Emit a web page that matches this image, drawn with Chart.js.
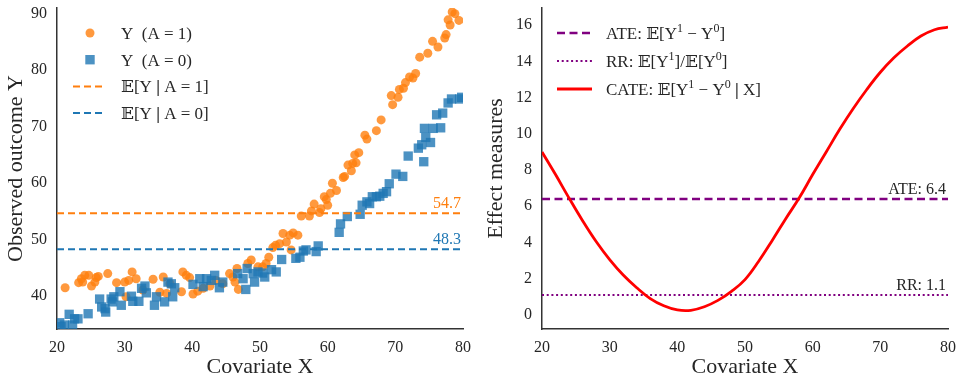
<!DOCTYPE html>
<html>
<head>
<meta charset="utf-8">
<script src="https://cdn.jsdelivr.net/npm/chart.js@4.4.1/dist/chart.umd.min.js"></script>
<style>
  html, body { margin: 0; padding: 0; background: #fff; }
  #wrap { position: relative; width: 958px; height: 378px; }
  #outcomechart { position: absolute; left: 0; top: 0; }
  #effectchart { position: absolute; left: 480px; top: 0; }
</style>
</head>
<body>
<div id="wrap">
  <canvas id="outcomechart" width="480" height="378"></canvas>
  <canvas id="effectchart" width="478" height="378"></canvas>
</div>
<script>
const outcomeChart = document.getElementById("outcomechart");
const effectChart = document.getElementById("effectchart");

// covariate / outcome for treated units (A = 1)
const xTreated = [21.2, 23.2, 23.6, 23.8, 24.1, 24.7, 25.1, 25.6, 25.8, 26.1, 27.5, 28.8, 30.0, 30.2, 30.6, 31.1, 31.7,
    32.7, 34.2, 35.2, 35.7, 36.2, 36.7, 38.4, 38.6, 39.1, 39.6, 40.1, 40.8, 41.6, 42.6, 43.5, 44.5, 45.5, 46.0, 46.3,
    46.6, 46.8, 48.2, 48.7, 49.7, 50.4, 50.9, 51.3, 51.9, 52.3, 52.9, 53.4, 53.9, 54.4, 54.6, 54.9, 55.6, 56.1, 57.3,
    57.6, 58.0, 58.8, 59.0, 59.5, 59.8, 60.0, 60.4, 60.7, 61.3, 62.3, 62.5, 63.0, 63.5, 63.7, 64.0, 64.2, 64.6, 65.5,
    65.8, 67.2, 67.9, 69.4, 69.6, 70.4, 70.6, 71.2, 71.5, 72.1, 72.6, 73.0, 73.6, 74.8, 75.5, 76.3, 77.3, 77.5, 77.8,
    78.1, 78.4, 78.8, 79.4];
const yTreated = [41.5, 42.4, 43.1, 42.5, 43.7, 43.7, 41.8, 42.5, 43.3, 43.5, 44.0, 42.4, 42.5, 39.9, 42.8, 44.3, 43.1,
    41.1, 43.0, 40.7, 43.4, 40.5, 42.2, 40.8, 44.3, 43.7, 43.3, 40.4, 40.9, 41.4, 41.8, 42.8, 42.2, 44.0, 43.4, 42.5,
    44.9, 41.2, 45.8, 46.4, 45.2, 45.2, 45.8, 46.9, 48.6, 49.0, 49.3, 51.1, 49.6, 50.8, 48.2, 51.2, 50.8, 54.2, 54.2,
    55.1, 56.3, 54.8, 55.5, 57.6, 57.1, 56.1, 58.2, 60.0, 58.7, 61.0, 61.2, 63.2, 62.2, 63.5, 65.0, 63.6, 65.4, 68.5,
    67.8, 69.3, 71.2, 75.5, 73.9, 75.2, 76.6, 76.8, 77.8, 78.8, 78.6, 79.4, 82.3, 83.0, 85.1, 84.1, 85.7, 86.3, 88.9,
    88.0, 90.3, 90.0, 88.8];

// covariate / outcome for control units (A = 0)
const xControl = [20.4, 20.6, 21.1, 21.8, 22.3, 22.6, 23.1, 24.6, 26.3, 26.6, 27.1, 27.2, 28.0, 28.2, 28.4, 29.3, 29.5,
    31.0, 31.2, 32.1, 32.5, 33.0, 33.2, 34.4, 34.7, 35.9, 36.4, 36.9, 37.4, 37.1, 40.1, 41.1, 41.6, 42.1, 42.8, 43.3,
    44.0, 44.5, 46.7, 47.5, 47.9, 48.1, 49.0, 49.2, 49.7, 50.4, 50.7, 51.7, 52.4, 53.2, 55.3, 55.9, 56.4, 56.8, 58.3,
    58.6, 61.7, 61.9, 62.9, 64.8, 65.1, 65.8, 66.2, 66.6, 67.2, 67.7, 68.2, 68.7, 69.1, 70.1, 71.1, 71.9, 73.4, 73.9,
    74.2, 74.5, 75.2, 74.3, 75.6, 76.1, 76.7, 77.0, 77.8, 78.3, 79.5, 79.8];
const yControl = [35.3, 34.6, 34.9, 36.8, 34.9, 36.0, 36.0, 36.9, 39.5, 38.1, 37.8, 37.2, 39.5, 39.0, 39.9, 40.8, 38.4,
    40.0, 39.1, 39.1, 41.4, 41.8, 40.6, 38.4, 39.9, 39.0, 42.5, 42.2, 41.5, 39.9, 42.1, 43.1, 41.7, 43.1, 42.8, 43.7,
    41.5, 42.5, 44.0, 43.1, 41.2, 44.9, 44.0, 42.5, 44.3, 44.1, 43.4, 44.7, 44.3, 46.5, 46.7, 46.9, 48.0, 48.2, 47.9,
    48.9, 51.3, 52.8, 54.1, 54.5, 56.1, 56.7, 56.4, 57.6, 57.6, 57.7, 58.2, 58.5, 59.9, 61.6, 61.2, 64.8, 66.2, 66.8,
    63.8, 68.1, 67.2, 69.7, 69.7, 72.1, 69.8, 72.4, 74.2, 74.9, 74.9, 75.2];

// group means
const meanTreated = 54.7;
const meanControl = 48.3;

// conditional effect curve over the covariate
const xCate = [20, 22, 24, 26, 28, 30, 32, 34, 36, 38, 40, 42, 44, 46, 48, 50, 52, 54, 56, 58, 60, 62, 64, 66, 68, 70, 72, 74, 76, 78, 80];
const yCate = [9.0, 7.75, 6.45, 5.2, 4.05, 3.05, 2.2, 1.5, 0.9, 0.5, 0.27, 0.25, 0.45, 0.8, 1.3, 1.95, 2.95, 4.1, 5.3,
    6.45, 7.75, 9.0, 10.25, 11.4, 12.45, 13.4, 14.2, 14.85, 15.4, 15.75, 15.9];
const ateValue = 6.4;
const rrValue = 1.1;

// tick labels
const xTicks = [20, 30, 40, 50, 60, 70, 80];
const outcomeTicks = [40, 50, 60, 70, 80, 90];
const effectTicks = [0, 2, 4, 6, 8, 10, 12, 14, 16];

const serif = "'Liberation Serif', 'DejaVu Serif', 'DejaVu Sans', serif";
const textColor = "#262626";
const orange = "#ff7f0e";
const blue = "#1f77b4";
const purple = "#800080";

function points(xs, ys) {
    return xs.map((x, i) => ({ x: x, y: ys[i] }));
}

function flatLine(v) {
    return [{ x: 20, y: v }, { x: 80, y: v }];
}

// scale boxes keep a fixed size and add no extra edge padding
function fixBox(s, w, h) {
    if (w) s.width = w;
    if (h) s.height = h;
    s.paddingTop = 0;
    s.paddingBottom = 0;
    s.paddingLeft = 0;
    s.paddingRight = 0;
}

// draws text runs; "^.." is a superscript, "*.." is bold
function drawRich(ctx, parts, x, y) {
    parts.forEach(p => {
        if (p[0] === "^") {
            ctx.font = "12px " + serif;
            ctx.fillText(p.slice(1), x, y - 7);
            x += ctx.measureText(p.slice(1)).width;
        } else if (p[0] === "*") {
            ctx.font = "bold 17px " + serif;
            ctx.fillText(p.slice(1), x, y);
            x += ctx.measureText(p.slice(1)).width;
        } else {
            ctx.font = "17px " + serif;
            ctx.fillText(p, x, y);
            x += ctx.measureText(p).width;
        }
    });
}

function makeLegend(rows, cfg) {
    return {
        id: "cornerLegend",
        afterDraw(chart) {
            const ctx = chart.ctx;
            ctx.save();
            rows.forEach((row, i) => {
                const y = cfg.top + i * cfg.gap;
                if (row.marker === "circle") {
                    ctx.fillStyle = row.color;
                    ctx.beginPath();
                    ctx.arc(cfg.markX, y, 4.5, 0, Math.PI * 2);
                    ctx.fill();
                } else if (row.marker === "rect") {
                    ctx.fillStyle = row.color;
                    ctx.fillRect(cfg.markX - 4.7, y - 4.7, 9.4, 9.4);
                } else {
                    ctx.strokeStyle = row.color;
                    ctx.lineWidth = row.width;
                    ctx.setLineDash(row.dash);
                    ctx.beginPath();
                    ctx.moveTo(cfg.lineFrom, y);
                    ctx.lineTo(cfg.lineTo, y);
                    ctx.stroke();
                    ctx.setLineDash([]);
                }
                ctx.fillStyle = textColor;
                ctx.textBaseline = "alphabetic";
                ctx.textAlign = "left";
                drawRich(ctx, row.text, cfg.textX, y + 6);
            });
            ctx.restore();
        }
    };
}

// value tags written just above the horizontal reference lines
function makeTags(tags) {
    return {
        id: "lineTags",
        afterDatasetsDraw(chart) {
            const ctx = chart.ctx;
            const yScale = chart.scales.y;
            ctx.save();
            ctx.font = "16px " + serif;
            ctx.textAlign = "right";
            ctx.textBaseline = "alphabetic";
            tags.forEach(t => {
                ctx.fillStyle = t.color;
                ctx.fillText(t.text, chart.chartArea.right - 2, yScale.getPixelForValue(t.value) - 5);
            });
            ctx.restore();
        }
    };
}

function axes(yMin, yMax, yTicks, yTitle, yWidth) {
    return {
        x: {
            type: "linear",
            min: 20,
            max: 80,
            afterBuildTicks: s => { s.ticks = xTicks.map(v => ({ value: v })); },
            afterFit: s => fixBox(s, 0, 49),
            grid: { display: false, drawTicks: false },
            border: { display: true, color: "#333", width: 1.5 },
            ticks: { color: textColor, font: { family: serif, size: 16 }, padding: 9, maxRotation: 0 },
            title: {
                display: true,
                text: "Covariate X",
                color: textColor,
                font: { family: serif, size: 22, lineHeight: 1 },
                padding: { top: 0, bottom: 0 }
            }
        },
        y: {
            type: "linear",
            min: yMin,
            max: yMax,
            afterBuildTicks: s => { s.ticks = yTicks.map(v => ({ value: v })); },
            afterFit: s => fixBox(s, yWidth, 0),
            grid: { display: false, drawTicks: false },
            border: { display: true, color: "#333", width: 1.5 },
            ticks: { color: textColor, font: { family: serif, size: 16 }, padding: 10 },
            title: {
                display: true,
                text: yTitle,
                color: textColor,
                font: { family: serif, size: 22, lineHeight: 1 },
                padding: { top: 5, bottom: 0 }
            }
        }
    };
}

// Observed outcome by treatment group
new Chart(outcomeChart, {
    type: "scatter",
    data: {
        datasets: [
            {
                data: flatLine(meanTreated),
                showLine: true,
                borderColor: orange,
                borderWidth: 2,
                borderDash: [7, 4],
                pointRadius: 0,
                order: 0
            },
            {
                data: flatLine(meanControl),
                showLine: true,
                borderColor: blue,
                borderWidth: 2,
                borderDash: [7, 4],
                pointRadius: 0,
                order: 0
            },
            {
                data: points(xControl, yControl),
                pointStyle: "rect",
                pointRadius: 6.6,
                backgroundColor: "rgba(31, 119, 180, 0.8)",
                borderWidth: 0,
                order: 1
            },
            {
                data: points(xTreated, yTreated),
                pointStyle: "circle",
                pointRadius: 4.5,
                backgroundColor: "rgba(255, 127, 14, 0.8)",
                borderWidth: 0,
                order: 2
            }
        ]
    },
    options: {
        responsive: false,
        animation: false,
        layout: { autoPadding: false, padding: { top: 8, right: 17, left: 0, bottom: 0 } },
        plugins: { legend: { display: false }, tooltip: { enabled: false } },
        scales: axes(34.2, 91.0, outcomeTicks, "Observed outcome Y", 57)
    },
    plugins: [
        makeTags([
            { text: meanTreated.toFixed(1), value: meanTreated, color: orange },
            { text: meanControl.toFixed(1), value: meanControl, color: blue }
        ]),
        makeLegend([
            { marker: "circle", color: "rgba(255, 127, 14, 0.8)", text: ["Y  (A = 1)"] },
            { marker: "rect", color: "rgba(31, 119, 180, 0.8)", text: ["Y  (A = 0)"] },
            { color: orange, width: 2, dash: [7, 4], text: ["𝔼[Y ", "*|", " A = 1]"] },
            { color: blue, width: 2, dash: [7, 4], text: ["𝔼[Y ", "*|", " A = 0]"] }
        ], { top: 33, gap: 26.7, markX: 90, lineFrom: 73, lineTo: 106, textX: 121 })
    ]
});

// Effect measures across the covariate
new Chart(effectChart, {
    type: "scatter",
    data: {
        datasets: [
            {
                data: points(xCate, yCate),
                showLine: true,
                borderColor: "#ff0000",
                borderWidth: 2.8,
                tension: 0.4,
                pointRadius: 0,
                order: 0
            },
            {
                data: flatLine(ateValue),
                showLine: true,
                borderColor: purple,
                borderWidth: 2.3,
                borderDash: [8, 4.5],
                pointRadius: 0,
                order: 1
            },
            {
                data: flatLine(rrValue),
                showLine: true,
                borderColor: purple,
                borderWidth: 2,
                borderDash: [2, 2.7],
                pointRadius: 0,
                order: 1
            }
        ]
    },
    options: {
        responsive: false,
        animation: false,
        layout: { autoPadding: false, padding: { top: 8, right: 10, left: 0, bottom: 0 } },
        plugins: { legend: { display: false }, tooltip: { enabled: false } },
        scales: axes(-0.78, 16.95, effectTicks, "Effect measures", 62)
    },
    plugins: [
        makeTags([
            { text: "ATE: " + ateValue.toFixed(1), value: ateValue, color: textColor },
            { text: "RR: " + rrValue.toFixed(1), value: rrValue, color: textColor }
        ]),
        makeLegend([
            { color: purple, width: 2.3, dash: [8, 4.5], text: ["ATE: 𝔼[Y", "^1", " − Y", "^0", "]"] },
            { color: purple, width: 2, dash: [2, 2.7], text: ["RR: 𝔼[Y", "^1", "]/𝔼[Y", "^0", "]"] },
            { color: "#ff0000", width: 3, dash: [], text: ["CATE: 𝔼[Y", "^1", " − Y", "^0", " ", "*|", " X]"] }
        ], { top: 33, gap: 28, markX: 0, lineFrom: 77, lineTo: 112, textX: 126 })
    ]
});
</script>
</body>
</html>
